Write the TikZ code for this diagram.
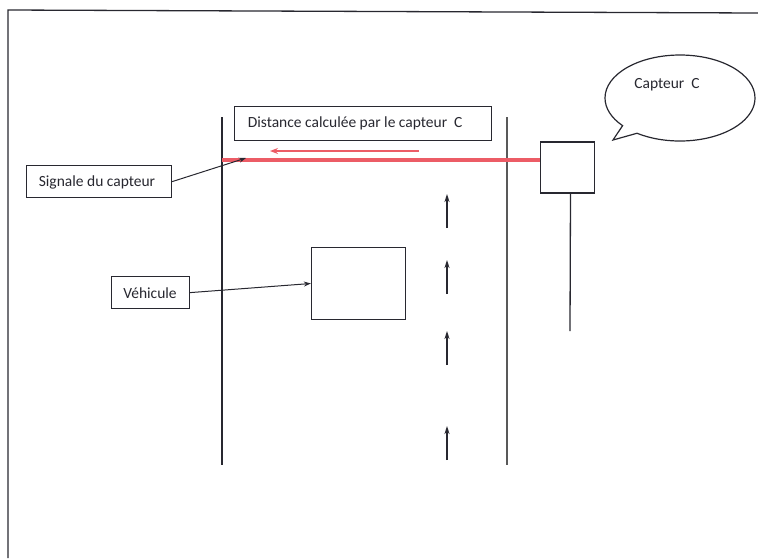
\documentclass[tikz,border=0pt]{standalone}
\usepackage{fontspec}
\setmainfont{Carlito}
\usetikzlibrary{arrows.meta,shapes.callouts}
\definecolor{signalred}{RGB}{236,92,102}
\definecolor{ink}{RGB}{40,40,48}
\begin{document}
\begin{tikzpicture}[x=1pt,y=-1pt,
  line width=1pt,
  txt/.style={text=ink,font=\fontsize{15.5}{18}\selectfont},
  labelbox/.style={draw=ink,line width=1.2pt,fill=white,inner sep=0pt,anchor=north west},
  pointer/.style={draw=ink,line width=1pt,-{Stealth[length=7pt,width=5pt]}},
  flow/.style={draw=ink,line width=1.3pt,-{Stealth[length=8pt,width=5pt]}},
  edge/.style={draw=ink,line width=1.3pt}]
\useasboundingbox (0,0) rectangle (758,558);
% page frame
\draw[edge] (8,558) -- (8,10) -- (758,13);
% road edges
\draw[edge] (222,117) -- (222,465);
\draw[draw=gray!70!black,line width=1.3pt] (507,117) -- (507,465);
% sensor and its pole
\node[draw=ink,line width=1.3pt,minimum width=54pt,minimum height=51pt,inner sep=0pt] (sensor) at (567.5,167.5) {};
\draw[edge] (sensor.south) ++(3,0) coordinate (poletop) -- (570,331) coordinate (polebot);
% speech bubble
\node[ellipse callout,draw=ink,line width=1.2pt,minimum width=150pt,minimum height=86pt,
  callout absolute pointer={(613,140)}] (bubble) at (680,98) {};
\node[txt] (bubbletext) at (667,85) {Capteur\ \ C};
% sensor beam
\coordinate (beamend) at (222,159.5);
\draw[signalred,line width=4pt] (sensor.west |- beamend) -- (beamend);
\coordinate (d0) at (419,151);
\coordinate (d1) at (270,151);
\draw[signalred,line width=1.5pt,-{Stealth[length=8pt,width=6pt]}] (d0) -- (d1);
% labels
\node[labelbox,minimum width=257pt,minimum height=34pt] (dist) at (234,106) {};
\node[txt,anchor=west] at (244,123) {Distance calculée par le capteur\ \ C};
\node[labelbox,minimum width=145pt,minimum height=32pt] (sig) at (26,165) {};
\node[txt,anchor=west] at (35,182) {Signale du capteur};
\node[labelbox,minimum width=78pt,minimum height=32pt] (veh) at (111,276) {};
\node[txt] at (150,293) {Véhicule};
% vehicle
\node[draw=ink,line width=1.3pt,minimum width=94pt,minimum height=72pt,inner sep=0pt] (car) at (358.5,283.5) {};
% pointers
\coordinate (sigtip) at (246,158);
\draw[pointer] (sig.east) -- (sigtip);
\draw[pointer] (veh.east) -- (car.west);
% traffic direction
\foreach \y/\n in {194/a,260/b,331/c,426/d}{
  \coordinate (f\n) at (447,\y+34);
  \coordinate (t\n) at (447,\y);
  \draw[flow] (f\n) -- (t\n);
}
\end{tikzpicture}
\end{document}
